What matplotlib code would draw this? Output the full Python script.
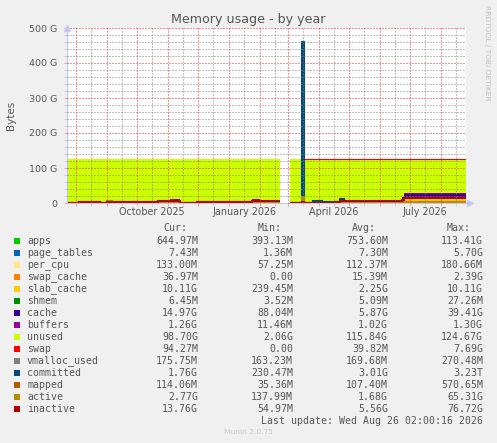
import matplotlib
matplotlib.use('Agg')
import matplotlib.pyplot as plt
import matplotlib.dates as mdates
import matplotlib.transforms as mtransforms
from matplotlib.patches import Rectangle
from matplotlib.ticker import MultipleLocator, FuncFormatter
import numpy as np

nan = np.nan

# step segments (start dates), last element closes the final segment
seg_starts = ['2025-07-23', '2025-08-04', '2025-08-25', '2025-09-01', '2025-09-06',
              '2025-10-22', '2025-11-03', '2025-11-13', '2025-11-30', '2026-01-24',
              '2026-02-01', '2026-02-21', '2026-03-03', '2026-03-15', '2026-03-17',
              '2026-03-26', '2026-04-04', '2026-04-17', '2026-04-22', '2026-04-26',
              '2026-06-23', '2026-06-25']
seg_end = '2026-08-26'

# values in GB, one per segment (nan = no data)
apps = [0.7, 0.7, 0.7, 0.7, 0.7, 0.8, 0.8, 0.7, 0.7, 0.8, 0.8, nan, 0.6, 2.0, 0.6, 0.7, 0.6, 0.7, 0.7, 0.7, 0.7, 0.65]
page_tables = [0.01, 0.01, 0.01, 0.01, 0.01, 0.01, 0.01, 0.01, 0.01, 0.01, 0.01, nan, 0.01, 1.5, 0.01, 0.01, 0.01, 0.01, 0.01, 0.01, 0.01, 0.007]
per_cpu = [0.11, 0.11, 0.11, 0.11, 0.11, 0.11, 0.11, 0.11, 0.11, 0.11, 0.11, nan, 0.11, 0.11, 0.11, 0.11, 0.11, 0.11, 0.11, 0.11, 0.12, 0.13]
swap_cache = [0.0, 0.0, 0.0, 0.0, 0.0, 0.0, 0.0, 0.0, 0.0, 0.0, 0.0, nan, 0.0, 0.0, 0.02, 0.02, 0.02, 0.02, 0.02, 0.02, 0.03, 0.04]
slab_cache = [0.3, 0.5, 0.3, 0.5, 0.5, 1.0, 1.0, 0.3, 0.5, 1.0, 0.8, nan, 0.3, 0.5, 0.3, 0.5, 0.4, 0.6, 1.0, 1.5, 5.0, 10.11]
shmem = [0.005, 0.005, 0.005, 0.005, 0.005, 0.005, 0.005, 0.005, 0.005, 0.005, 0.005, nan, 0.005, 0.005, 0.005, 0.005, 0.005, 0.005, 0.005, 0.005, 0.005, 0.006]
cache = [0.3, 1.0, 0.3, 1.5, 1.0, 2.0, 8.0, 0.5, 1.0, 8.0, 3.0, nan, 0.3, 0.5, 0.3, 0.8, 0.5, 1.0, 2.0, 3.0, 10.0, 14.97]
buffers = [0.05, 0.05, 0.05, 0.05, 0.05, 0.1, 0.3, 0.05, 0.05, 0.3, 0.1, nan, 0.05, 0.05, 0.05, 0.1, 0.05, 0.1, 0.3, 0.8, 1.0, 1.26]
unused = [124.4, 123.5, 124.4, 123.0, 123.5, 121.9, 115.7, 124.2, 123.5, 115.7, 121.1, nan, 124.5, 121.2, 124.4, 123.6, 124.1, 123.3, 121.7, 119.7, 108.9, 98.7]
swap = [0.0, 0.0, 0.0, 0.0, 0.0, 0.0, 0.0, 0.0, 0.0, 0.0, 0.0, nan, 0.0, 0.0, 0.09, 0.09, 0.09, 0.09, 0.09, 0.09, 0.09, 0.094]

vmalloc_used = [0.17, 0.17, 0.17, 0.17, 0.17, 0.17, 0.17, 0.17, 0.17, 0.17, 0.17, nan, 0.17, 0.27, 0.17, 0.17, 0.17, 0.17, 0.17, 0.17, 0.17, 0.18]
committed = [0.5, 2.0, 0.5, 2.0, 2.0, 3.0, 3.0, 0.5, 2.0, 3.0, 2.5, nan, 0.5, 460.0, 0.8, 7.0, 1.5, 2.0, 11.0, 2.5, 2.0, 1.76]
mapped = [0.1, 0.1, 0.1, 0.1, 0.1, 0.1, 0.1, 0.1, 0.1, 0.1, 0.1, nan, 0.1, 0.5, 0.1, 0.1, 0.1, 0.1, 0.1, 0.1, 0.1, 0.11]
active = [0.3, 1.0, 0.3, 7.0, 1.0, 2.0, 2.0, 0.3, 1.0, 2.0, 1.5, nan, 0.3, 18.0, 0.3, 0.5, 0.4, 3.0, 2.0, 2.5, 2.5, 2.77]
inactive = [0.5, 3.0, 0.5, 3.0, 3.0, 6.0, 6.0, 0.8, 3.0, 6.0, 5.0, nan, 0.8, 1.5, 0.8, 1.0, 1.0, 4.0, 6.0, 7.0, 10.0, 13.76]

area_names = ['apps', 'page_tables', 'per_cpu', 'swap_cache', 'slab_cache', 'shmem',
              'cache', 'buffers', 'unused', 'swap']
area_vals = [apps, page_tables, per_cpu, swap_cache, slab_cache, shmem, cache, buffers, unused, swap]
line_names = ['vmalloc_used', 'committed', 'mapped', 'active', 'inactive']
line_vals = [vmalloc_used, committed, mapped, active, inactive]

colors = {'apps': '#00CC00', 'page_tables': '#0066B3', 'per_cpu': '#FFE680',
          'swap_cache': '#FF8000', 'slab_cache': '#FFCC00', 'shmem': '#008F00',
          'cache': '#330099', 'buffers': '#990099', 'unused': '#CCFF00', 'swap': '#FF0000',
          'vmalloc_used': '#808080', 'committed': '#00487D', 'mapped': '#B35A00',
          'active': '#B38F00', 'inactive': '#B30000'}

legend_names = area_names + line_names
cur = ['644.97M', '7.43M', '133.00M', '36.97M', '10.11G', '6.45M', '14.97G', '1.26G',
       '98.70G', '94.27M', '175.75M', '1.76G', '114.06M', '2.77G', '13.76G']
mins = ['393.13M', '1.36M', '57.25M', '0.00', '239.45M', '3.52M', '88.04M', '11.46M',
        '2.06G', '0.00', '163.23M', '230.47M', '35.36M', '137.99M', '54.97M']
avgs = ['753.60M', '7.30M', '112.37M', '15.39M', '2.25G', '5.09M', '5.87G', '1.02G',
        '115.84G', '39.82M', '169.68M', '3.01G', '107.40M', '1.68G', '5.56G']
maxs = ['113.41G', '5.70G', '180.66M', '2.39G', '10.11G', '27.26M', '39.41G', '1.30G',
        '124.67G', '7.69G', '270.48M', '3.23T', '570.65M', '65.31G', '76.72G']

xlabel_dates = ['2025-10-16', '2026-01-16', '2026-04-16', '2026-07-16']
xlabel_texts = ['October 2025', 'January 2026', 'April 2026', 'July 2026']

W, H = 497, 443
TXT = '#555555'


def fx(x):
    return x / W


def fy(y):
    return 1 - y / H


fig = plt.figure(figsize=(W / 100, H / 100), dpi=100, facecolor='#F0F0F0')
ax = fig.add_axes([fx(67), fy(203), (466 - 67) / W, (203 - 28) / H])
ax.set_facecolor('white')

edges = mdates.date2num(np.array(seg_starts + [seg_end], dtype='datetime64[D]'))
xs = np.repeat(edges, 2)[1:-1]


def stepped(v):
    return np.repeat(np.asarray(v, dtype=float), 2)


# stacked areas
base = np.zeros(len(seg_starts))
for name, vals in zip(area_names, area_vals):
    top = base + np.asarray(vals, dtype=float)
    ax.fill_between(xs, stepped(base), stepped(top), color=colors[name], lw=0, zorder=1)
    base = top
# swap is thin, rrdtool still shows it as a 1px edge
swap_edge = np.where(np.asarray(swap) > 0, base, nan)
ax.plot(xs, stepped(swap_edge), color=colors['swap'], lw=0.8, zorder=1.2)

for name, vals in zip(line_names, line_vals):
    ax.plot(xs, stepped(vals), color=colors[name], lw=1.5, zorder=1.5,
            solid_joinstyle='miter', solid_capstyle='butt')

ax.set_xlim(edges[0], edges[-1])
ax.set_ylim(0, 500)

# grid on top of data like rrdtool
ax.set_axisbelow(False)
ax.xaxis.set_major_locator(mdates.MonthLocator(bymonthday=1))
ax.xaxis.set_minor_locator(mdates.MonthLocator(bymonthday=16))
ax.xaxis.set_major_formatter(FuncFormatter(lambda v, p: ''))
ax.yaxis.set_major_locator(MultipleLocator(100))
ax.yaxis.set_minor_locator(MultipleLocator(20))
ax.yaxis.set_major_formatter(FuncFormatter(lambda v, p: '0' if v == 0 else '%d G' % v))

maj = (0.9, 0.15, 0.15, 0.35)
mnr = (0.5, 0.5, 0.5, 0.28)
ax.grid(which='major', color=maj, lw=0.72, linestyle=(0, (1, 2)))
ax.grid(which='minor', color=mnr, lw=0.72, linestyle=(0, (1, 2)))
ax.tick_params(which='major', length=2.2, width=0.72, color=maj)
ax.tick_params(which='minor', length=2.2, width=0.72, color=mnr)
ax.tick_params(axis='y', which='major', labelsize=6.8, labelcolor=TXT, pad=5)

for s in ['top', 'right']:
    ax.spines[s].set_visible(False)
for s in ['left', 'bottom']:
    ax.spines[s].set_color('#C4C8F0')
    ax.spines[s].set_linewidth(0.8)
ax.plot([0], [1.0], marker='^', ms=4, color='#C4C8F0', transform=ax.transAxes,
        clip_on=False, zorder=3)
ax.plot([1.01], [0], marker='>', ms=4, color='#C4C8F0', transform=ax.transAxes,
        clip_on=False, zorder=3)

trans = mtransforms.blended_transform_factory(ax.transData, ax.transAxes)
for d, t in zip(xlabel_dates, xlabel_texts):
    ax.text(mdates.date2num(np.datetime64(d)), -0.052, t, transform=trans,
            ha='center', va='center', fontsize=6.9, color=TXT)

fig.text(fx(248), fy(19), 'Memory usage - by year', ha='center', va='center',
         fontsize=9.1, color=TXT)
fig.text(fx(11), fy(115), 'Bytes', rotation=90, ha='center', va='center',
         fontsize=7.5, color=TXT)
fig.text(fx(487), fy(53), 'RRDTOOL / TOBI OETIKER', rotation=270, ha='center',
         va='center', fontsize=5.4, color='#C0C0C0')

mono = 'DejaVu Sans Mono'
for hx, h in zip([163, 258, 352, 447], ['Cur:', 'Min:', 'Avg:', 'Max:']):
    fig.text(fx(hx), fy(231), h, family=mono, fontsize=7.15, color=TXT, va='baseline')

for i, name in enumerate(legend_names):
    yb = 243.5 + 12 * i
    fig.add_artist(Rectangle((fx(14), fy(yb)), 6 / W, 6 / H, transform=fig.transFigure,
                             facecolor=colors[name], edgecolor='none'))
    fig.text(fx(27), fy(yb), name, family=mono, fontsize=7.15, color=TXT, va='baseline')
    for cx, col in zip([198, 293, 388, 483], [cur, mins, avgs, maxs]):
        fig.text(fx(cx), fy(yb), col[i], family=mono, fontsize=7.15, color=TXT,
                 va='baseline', ha='right')

fig.text(fx(483), fy(423.5), 'Last update: Wed Aug 26 02:00:16 2026', family=mono,
         fontsize=7.15, color=TXT, va='baseline', ha='right')
fig.text(fx(248), fy(434.5), 'Munin 2.0.75', fontsize=5.4, color='#C8C8C8',
         va='baseline', ha='center')

fig.savefig('out.png', dpi=100, facecolor=fig.get_facecolor())
